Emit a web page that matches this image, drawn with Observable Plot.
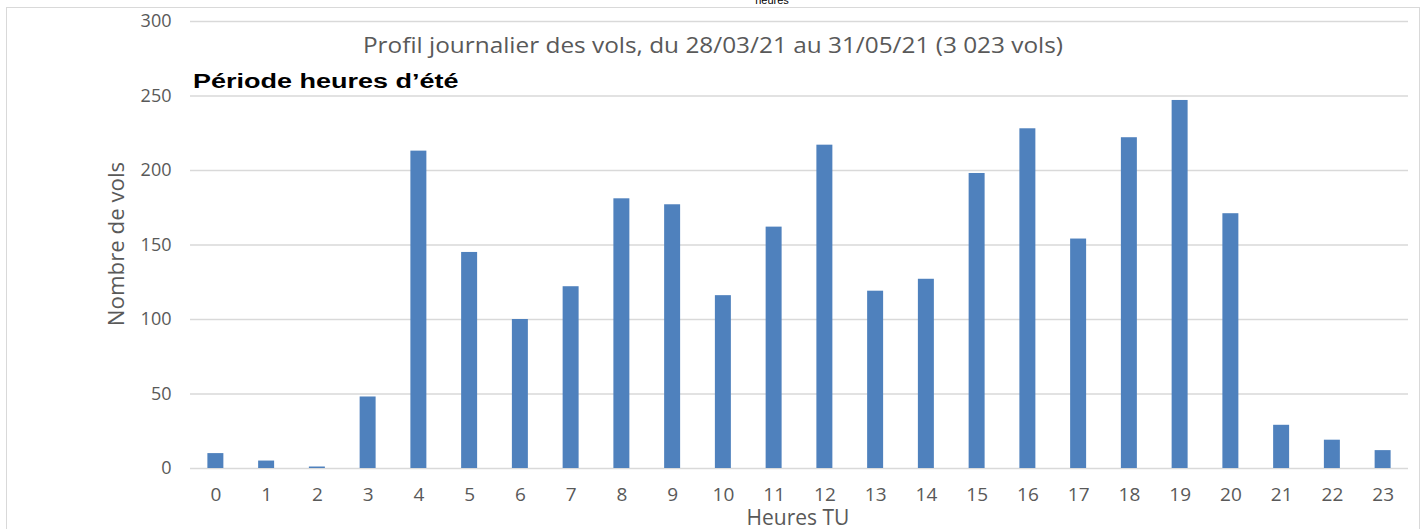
<!DOCTYPE html>
<html>
<head>
<meta charset="utf-8">
<script src="https://cdn.jsdelivr.net/npm/d3@7"></script>
<script src="https://cdn.jsdelivr.net/npm/@observablehq/plot@0.6"></script>
<style>
  body { margin: 0; background: #fff; }
  #wrap { position: relative; width: 1424px; height: 529px; overflow: hidden; font-family: "Open Sans", sans-serif; }
  #frame { position: absolute; left: 6px; top: 7px; width: 1414px; height: 540px; border: 1.5px solid #d9d9d9; box-sizing: border-box; }
  .t { position: absolute; white-space: nowrap; line-height: 1; }
  #chart svg text { font-family: "Open Sans", sans-serif; }
</style>
</head>
<body>
<div id="wrap">
  <div id="frame"></div>
  <div id="chart"></div>
  <div class="t" style="left:772px; top:-5px; transform:translateX(-50%); font-family:'Liberation Sans', Arial, sans-serif; font-size:11px; color:#000;">heures</div>
  <div class="t" style="left:713px; top:35px; transform:translateX(-50%) scaleX(1.16); font-size:21px; color:#595959;">Profil journalier des vols, du 28/03/21 au 31/05/21 (3 023 vols)</div>
  <div class="t" style="left:193px; top:71px; transform-origin:0 0; transform:scaleX(1.35); font-family:'Liberation Sans', Arial, sans-serif; font-weight:bold; font-size:20px; color:#000;">Période heures d’été</div>
  <div class="t" style="left:116px; top:244px; transform:translate(-50%,-50%) rotate(-90deg) scaleX(1.06); font-size:21px; color:#595959;">Nombre de vols</div>
  <div class="t" style="left:798px; top:507px; transform:translateX(-50%); font-size:21px; color:#595959;">Heures TU</div>
</div>
<script>
const hours = ["0","1","2","3","4","5","6","7","8","9","10","11","12","13","14","15","16","17","18","19","20","21","22","23"];
const vols = [10,5,1,48,213,145,100,122,181,177,116,162,217,119,127,198,228,154,222,247,171,29,19,12];
const yTicks = [0,50,100,150,200,250,300];

const data = hours.map((h, i) => ({h, v: vols[i]}));

const chart = Plot.plot({
  width: 1424,
  height: 529,
  marginLeft: 190,
  marginRight: 16,
  marginTop: 21,
  marginBottom: 61,
  style: {fontFamily: "'Open Sans', sans-serif", fontSize: "18px", color: "#595959", background: "transparent"},
  x: {domain: hours, paddingInner: 0.685, paddingOuter: 0.3425, round: false, label: null},
  y: {domain: [0, 300], label: null},
  marks: [
    Plot.gridY(yTicks, {stroke: "#d9d9d9", strokeOpacity: 1, strokeWidth: 1.5}),
    Plot.barY(data, {x: "h", y: "v", fill: "#4f81bd"}),
    Plot.axisY(yTicks, {tickSize: 0, tickPadding: 19, label: null, fontSize: 18}),
    Plot.axisX({tickSize: 0, tickPadding: 19, label: null, fontSize: 19})
  ]
});
document.getElementById("chart").appendChild(chart);
</script>
</body>
</html>
